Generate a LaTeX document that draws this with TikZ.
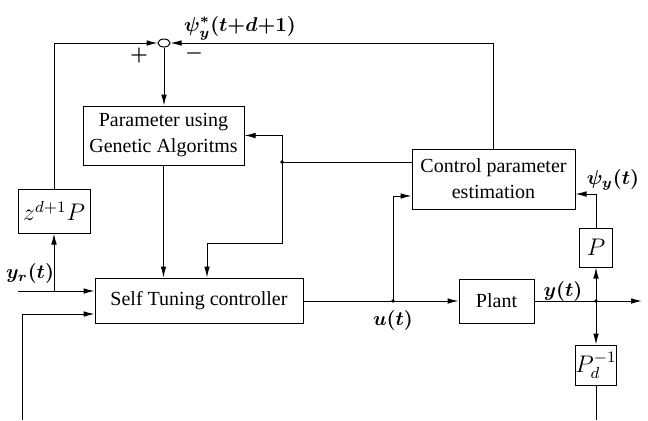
\documentclass[tikz,border=0pt]{standalone}
\usepackage{fontspec}
\setmainfont{Liberation Serif}
\usepackage{tikz}
\usetikzlibrary{shapes.geometric,arrows.meta,positioning}

\begin{document}
\begin{tikzpicture}[
  x=0.5pt, y=-0.5pt,
  every node/.style={font=\normalsize},
  sigarrow/.style={-{Latex[length=5.5pt,width=2.8pt]}, line width=0.5pt},
  sigline/.style={line width=0.5pt},
  blockbox/.style={
    draw,
    line width=0.5pt,
    align=center,
    inner sep=0pt
  },
  mathbox/.style={blockbox, font=\large},
  sumnode/.style={draw, ellipse, line width=0.5pt, minimum width=6pt, minimum height=4pt, inner sep=0pt},
  siglabel/.style={inner sep=1pt, font=\boldmath}
]
\useasboundingbox (0,0) rectangle (648,420);

% blocks
\node[sumnode] (sum) at (164,43) {};
\node[blockbox, minimum width=80.5pt, minimum height=29.5pt] (ga) at (163.5,135.5)
  {Parameter using\\[1pt] Genetic Algoritms};
\node[blockbox, minimum width=81.5pt, minimum height=30pt] (cpe) at (493.5,179)
  {Control parameter\\[1pt] estimation};
\node[mathbox, minimum width=36pt, minimum height=22pt] (zdp) at (54,211) {$z^{d+1}P$};
\node[blockbox, minimum width=104pt, minimum height=22.5pt] (stc) at (199,300.5) {Self Tuning controller};
\node[blockbox, minimum width=37.5pt, minimum height=22pt] (plant) at (496.5,301) {Plant};
\node[mathbox, minimum width=16.5pt, minimum height=19.5pt] (pbox) at (596,247.5) {$P$};
\node[mathbox, minimum width=16.5pt, minimum height=20pt] (pdinv) at (596,365) {$P_d^{-1}$};

% branch points and free ends
\coordinate (yrin) at (18,291);
\coordinate (yrbr) at (54,291);
\coordinate (fbin) at (22,420);
\coordinate (fbturn) at (22,314);
\coordinate (gajn) at (282,162);
\coordinate (stcin) at (207,243);
\coordinate (ujn) at (393,301);
\coordinate (cpein) at (393,196);
\coordinate (yjn) at (596,301);
\coordinate (yout) at (642,301);
\coordinate (psiy) at (596,194);
\coordinate (pdend) at (596,420);

% labels
\node[siglabel] (psistar) at (240,28) {$\psi^{*}_{y}(t{+}d{+}1)$};
\node[siglabel] (plus) at (139,55) {$+$};
\node[siglabel] (minus) at (194,53) {$-$};
\node[siglabel] (yrlab) at (30,273) {$y_r(t)$};
\node[siglabel] (ulab) at (393,320) {$u(t)$};
\node[siglabel] (ylab) at (563,291) {$y(t)$};
\node[siglabel] (psilab) at (613,180) {$\psi_y(t)$};

% connectors
\draw[sigarrow] (zdp.north) |- (sum.west);
\draw[sigarrow] (cpe.north) |- (sum.east);
\draw[sigarrow] (sum.south) -- (sum.south |- ga.north);
\draw[sigarrow] (yrin) -- (stc.west |- yrin);
\draw[sigarrow] (yrbr) -- (zdp.south);
\draw[sigarrow] (fbin) -- (fbturn) -- (stc.west |- fbturn);
\draw[sigarrow] (ga.south) -- (ga.south |- stc.north);
\draw[sigarrow] (gajn) |- (ga.east);
\draw[sigline] (gajn) -- (cpe.west |- gajn);
\draw[sigarrow] (gajn) |- (stcin) -- (stcin |- stc.north);
\draw[sigline] (stc.east |- ujn) -- (ujn);
\draw[sigarrow] (ujn) -- (plant.west |- ujn);
\draw[sigarrow] (ujn) -- (cpein) -- (cpein -| cpe.west);
\draw[sigline] (plant.east |- yjn) -- (yjn);
\draw[sigarrow] (yjn) -- (yout);
\draw[sigarrow] (yjn) -- (pbox.south);
\draw[sigarrow] (pbox.north) -- (psiy) -- (psiy -| cpe.east);
\draw[sigarrow] (yjn) -- (pdinv.north);
\draw[sigline] (pdinv.south) -- (pdend);

% junction dots
\foreach \jn in {gajn, ujn, yjn}
  \fill (\jn) circle[radius=0.9pt];

\end{tikzpicture}
\end{document}
